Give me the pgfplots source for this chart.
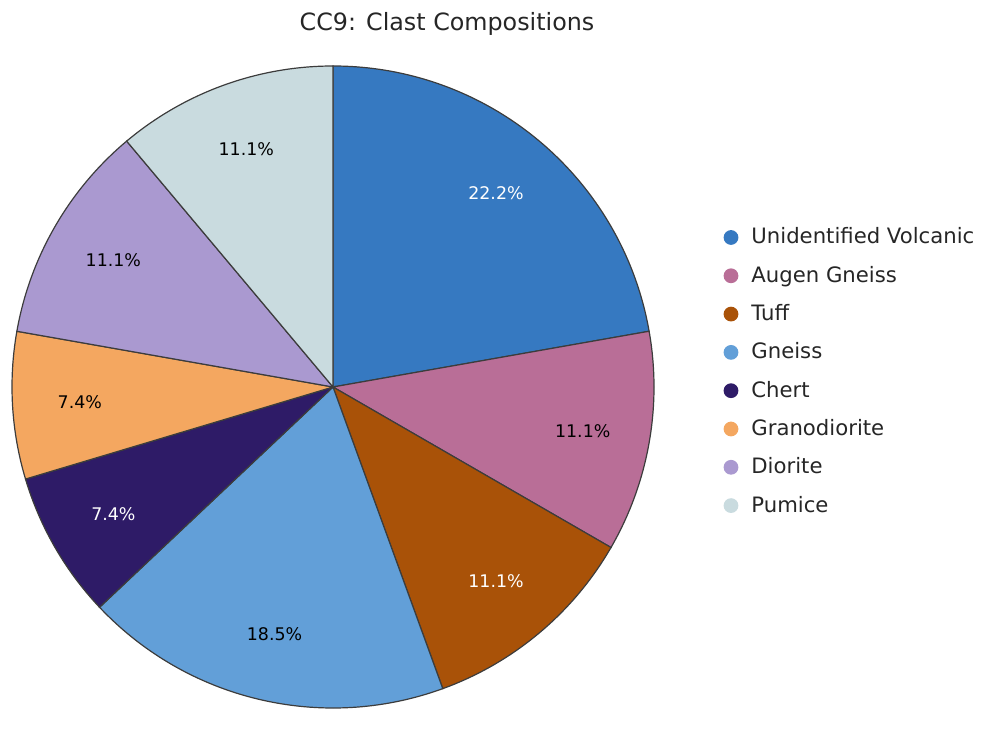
\documentclass[border=0pt]{standalone}
\usepackage{fontspec}
\setmainfont{DejaVu Sans}
\usepackage{pgfplots}
\pgfplotsset{compat=1.18}

\definecolor{cUV}{HTML}{3679C1}
\definecolor{cAG}{HTML}{B96E97}
\definecolor{cTU}{HTML}{A95208}
\definecolor{cGN}{HTML}{629FD8}
\definecolor{cCH}{HTML}{2E1B67}
\definecolor{cGR}{HTML}{F4A760}
\definecolor{cDI}{HTML}{AA99D0}
\definecolor{cPU}{HTML}{C9DBDF}
\definecolor{edge}{HTML}{3C3C3C}

\newcommand\lblfont{\fontsize{8.7}{10}\selectfont}
\newcommand\legfont{\fontsize{10.6}{13}\selectfont}

\begin{document}
\begin{tikzpicture}
\begin{axis}[
    hide axis, scale only axis,
    width=492.5pt, height=355.5pt,
    xmin=0, xmax=985, ymin=0, ymax=711,
    clip=false,
]
% keep the full canvas in the bounding box
\path (axis cs:0,0) rectangle (axis cs:985,711);
% pie centre and radius in pixel units (1 unit = 0.5pt)
\def\cx{333}\def\cy{324}\def\R{321}
\gdef\acc{0}
% share (percent) / slice colour / label colour
\foreach \p/\col/\txt in {22.2/cUV/white, 11.1/cAG/black, 11.1/cTU/white,
    18.5/cGN/black, 7.4/cCH/white, 7.4/cGR/black, 11.1/cDI/black, 11.1/cPU/black}{
  \pgfmathsetmacro\a{90-\acc/99.9*360}
  \pgfmathsetmacro\b{90-(\acc+\p)/99.9*360}
  \pgfmathsetmacro\m{(\a+\b)/2}
  \edef\temp{%
    \noexpand\filldraw[fill=\col, draw=edge, line width=0.6pt]
      (axis cs:\cx,\cy) -- (axis cs:{\cx+\R*cos(\a)},{\cy+\R*sin(\a)})
      arc[start angle=\a, end angle=\b, radius=160.5pt] -- cycle;
    \noexpand\node[text=\txt, font=\noexpand\lblfont]
      at (axis cs:{\cx+0.79*\R*cos(\m)},{\cy+0.79*\R*sin(\m)}) {\p\%};
  }\temp
  \pgfmathsetmacro\nacc{\acc+\p}
  \xdef\acc{\nacc}
}

% legend
\foreach \i/\name/\col in {0/Unidentified Volcanic/cUV, 1/Augen Gneiss/cAG,
    2/Tuff/cTU, 3/Gneiss/cGN, 4/Chert/cCH, 5/Granodiorite/cGR,
    6/Diorite/cDI, 7/Pumice/cPU}{
  \pgfmathsetmacro\yy{711-237.5-38.3*\i}
  \edef\temp{%
    \noexpand\fill[\col] (axis cs:731,\yy) circle[radius=3.7pt];
    \noexpand\node[anchor=base west, inner sep=0pt, font=\noexpand\legfont,
      text=black!85] at (axis cs:751,{\yy-6.5}) {\name};
  }\temp
}

\node[anchor=base, font=\fontsize{11.9}{14}\selectfont, text=black!85]
  at (axis cs:447,680) {CC9: Clast Compositions};
\end{axis}
\end{tikzpicture}
\end{document}
